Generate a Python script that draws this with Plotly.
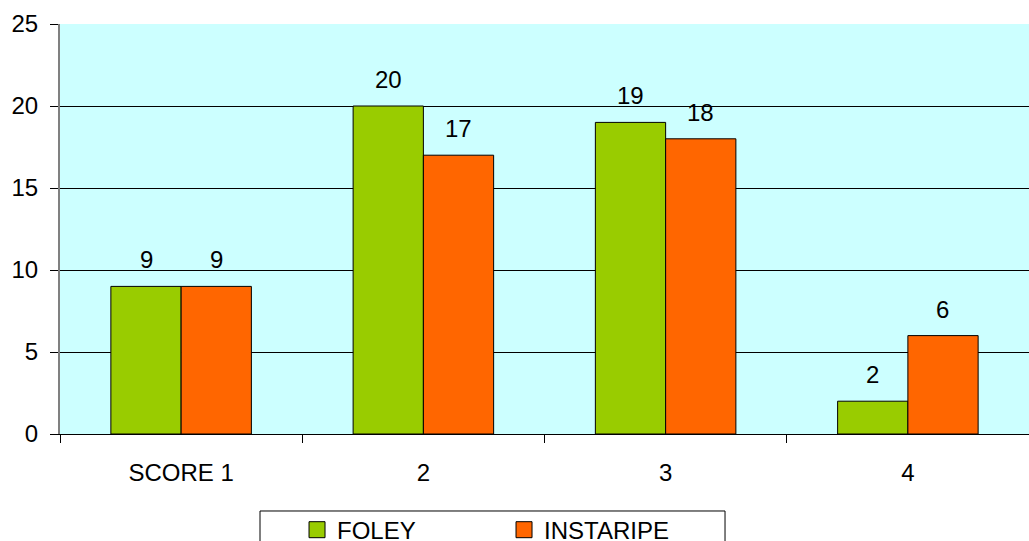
import plotly.graph_objects as go

categories = ["SCORE 1", "2", "3", "4"]
foley = [9, 20, 19, 2]
instaripe = [9, 17, 18, 6]
series_names = ["FOLEY", "INSTARIPE"]
series_colors = ["#99CC00", "#FF6600"]

FONT = "Liberation Sans, Arial, sans-serif"
FS = 24

fig = go.Figure()
for name, vals, col in zip(series_names, [foley, instaripe], series_colors):
    fig.add_trace(go.Bar(
        x=categories, y=vals, name=name, showlegend=False,
        marker=dict(color=col, line=dict(color="black", width=1)),
    ))
# legend entries with larger square swatches
for name, col in zip(series_names, series_colors):
    fig.add_trace(go.Scatter(
        x=[None], y=[None], mode="markers", name=name,
        marker=dict(symbol="square", size=16, color=col, line=dict(color="black", width=1)),
    ))

# value labels above bars
for i, vals in enumerate([foley, instaripe]):
    shift = -35 if i == 0 else 35
    for k, v in enumerate(vals):
        fig.add_annotation(x=k, y=v, text=str(v), showarrow=False,
                           xshift=shift, yshift=11, yanchor="bottom",
                           font=dict(family=FONT, size=FS, color="black"))

# legend frame
fig.add_shape(type="rect", xref="paper", yref="paper",
              x0=0.2064, x1=0.6863, y0=-0.1878, y1=-0.30,
              line=dict(color="black", width=1), fillcolor="white", layer="below")

fig.update_layout(
    width=1029, height=541,
    margin=dict(l=60, r=0, t=24, b=107, autoexpand=False),
    paper_bgcolor="white",
    plot_bgcolor="#CCFFFF",
    barmode="group",
    bargap=0.42,
    bargroupgap=0,
    font=dict(family=FONT, size=FS, color="black"),
    showlegend=True,
    legend=dict(orientation="h", x=0.2446, xanchor="left", y=-0.1795, yanchor="top",
                entrywidth=162, font=dict(size=FS), bgcolor="rgba(0,0,0,0)",
                borderwidth=0, itemclick=False),
    xaxis=dict(type="category", showgrid=False, ticks="outside", tickson="boundaries",
               ticklen=8, tickcolor="black", showline=True, linecolor="black",
               linewidth=1, tickfont=dict(size=FS), range=[-0.5, 3.5],
               ticklabelstandoff=17),
    yaxis=dict(range=[0, 25], dtick=5, showgrid=True, gridcolor="black", gridwidth=1,
               ticks="outside", ticklen=8, tickcolor="black", showline=True,
               linecolor="#808080", linewidth=2, tickfont=dict(size=FS), zeroline=False,
               ticklabelstandoff=7),
)

fig.write_html("out.html")
